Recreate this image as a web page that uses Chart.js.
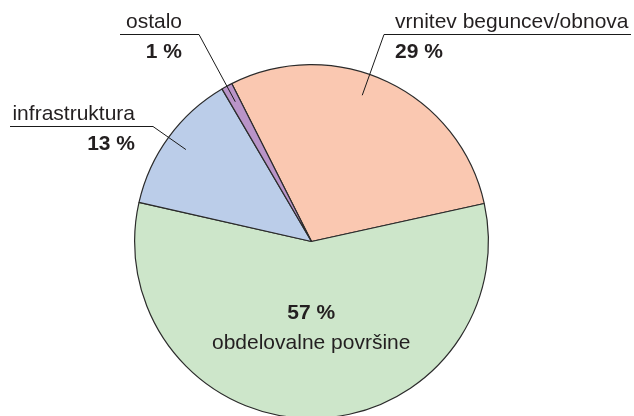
<!DOCTYPE html>
<html>
<head>
<meta charset="utf-8">
<script src="https://cdn.jsdelivr.net/npm/chart.js@4/dist/chart.umd.min.js"></script>
<style>
  html, body { margin: 0; padding: 0; background: #fff; }
  #wrap { width: 634px; height: 416px; overflow: hidden; position: relative; }
  canvas { display: block; }
</style>
</head>
<body>
<div id="wrap"><canvas id="chart" width="634" height="440"></canvas></div>
<script>
const categories = ["vrnitev beguncev/obnova", "obdelovalne površine", "infrastruktura", "ostalo"];
const shares = [29, 57, 13, 1];
const colors = ["#FAC8B1", "#CDE6CA", "#BBCDE9", "#B994C8"];

// where each label sits (annotation layout only)
const labelLayout = [
  { side: "right", textX: 395, lineY: 34.5, lineFrom: 384, lineTo: 631, frac: 0.44, r: 0.875 },
  { side: "inside", frac: 0.5, r: 0.44 },
  { side: "left", textX: 135, lineY: 126.5, lineFrom: 10, lineTo: 153, frac: 0.5, r: 0.88 },
  { side: "left", textX: 182, lineY: 34.5, lineFrom: 120, lineTo: 199, frac: 0.5, r: 0.9 }
];

const FONT = '"Liberation Sans", Arial, Helvetica, sans-serif';
const TEXT = "#231F20";

const pieLabels = {
  id: "pieLabels",
  afterDraw(chart) {
    const ctx = chart.ctx;
    const arcs = chart.getDatasetMeta(0).data;
    ctx.save();
    arcs.forEach((arc, i) => {
      const lay = labelLayout[i];
      const a = arc.startAngle + (arc.endAngle - arc.startAngle) * lay.frac;
      const px = arc.x + Math.cos(a) * arc.outerRadius * lay.r;
      const py = arc.y + Math.sin(a) * arc.outerRadius * lay.r;
      const value = shares[i] + " %";
      ctx.fillStyle = TEXT;
      ctx.textBaseline = "alphabetic";
      if (lay.side === "inside") {
        ctx.textAlign = "center";
        ctx.font = "bold 21px " + FONT;
        ctx.fillText(value, px, py);
        ctx.font = "21px " + FONT;
        ctx.fillText(categories[i], px, py + 30);
        return;
      }
      ctx.strokeStyle = "#1a1a1a";
      ctx.lineWidth = 1;
      const corner = lay.side === "left" ? lay.lineTo : lay.lineFrom;
      ctx.beginPath();
      ctx.moveTo(lay.lineFrom, lay.lineY);
      ctx.lineTo(lay.lineTo, lay.lineY);
      ctx.moveTo(corner, lay.lineY);
      ctx.lineTo(px, py);
      ctx.stroke();
      ctx.textAlign = lay.side === "left" ? "right" : "left";
      ctx.font = "21px " + FONT;
      ctx.fillText(categories[i], lay.textX, lay.lineY - 7);
      ctx.font = "bold 21px " + FONT;
      ctx.fillText(value, lay.textX, lay.lineY + 23);
    });
    ctx.restore();
  }
};

new Chart(document.getElementById("chart"), {
  type: "pie",
  data: {
    labels: categories,
    datasets: [{
      data: shares,
      backgroundColor: colors,
      borderColor: "#2b2b2b",
      borderWidth: 1.2
    }]
  },
  options: {
    responsive: false,
    animation: false,
    rotation: -26.8,
    layout: { padding: { left: 134, right: 145, top: 64, bottom: 21 } },
    plugins: { legend: { display: false }, tooltip: { enabled: false } }
  },
  plugins: [pieLabels]
});
</script>
</body>
</html>
